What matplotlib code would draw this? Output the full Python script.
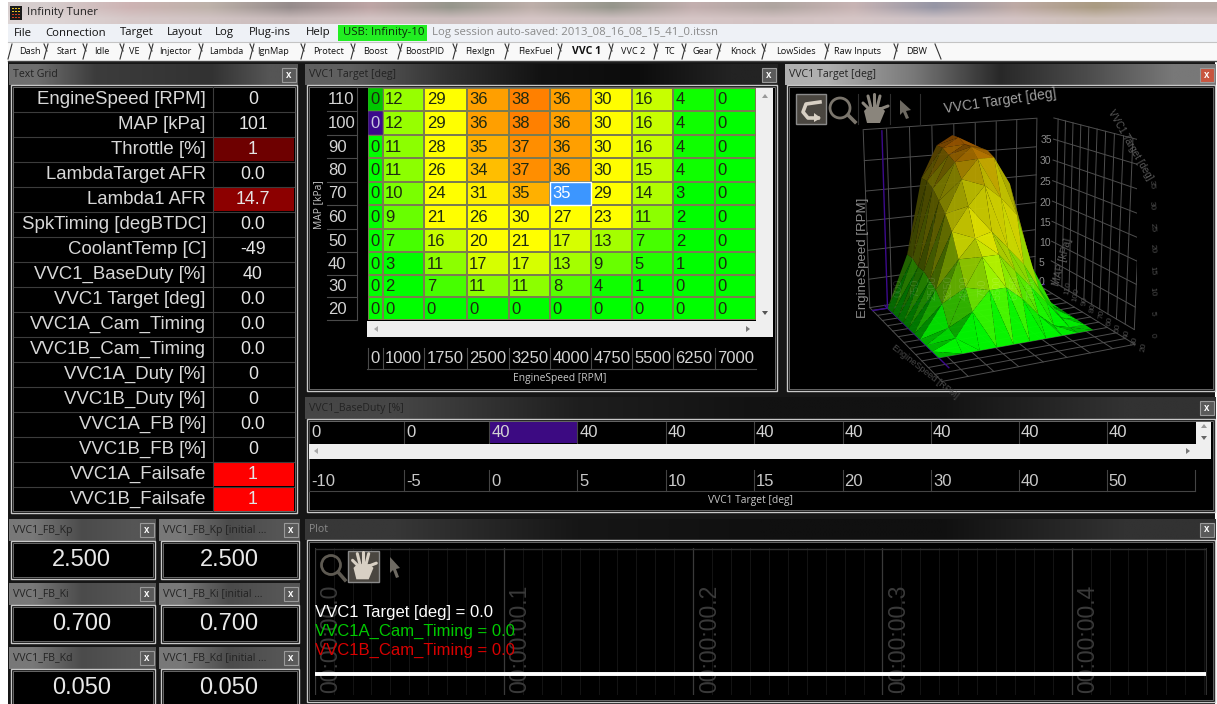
import numpy as np
import matplotlib
matplotlib.use('Agg')
import matplotlib.pyplot as plt
from matplotlib.colors import LinearSegmentedColormap, Normalize
from matplotlib.patches import Rectangle, Polygon, Circle
from mpl_toolkits.mplot3d.art3d import Poly3DCollection

plt.rcParams['font.family'] = ['Liberation Sans', 'DejaVu Sans']

W, H = 1217, 704

# table data
rpm = [0, 1000, 1750, 2500, 3250, 4000, 4750, 5500, 6250, 7000]
map_kpa = [110, 100, 90, 80, 70, 60, 50, 40, 30, 20]
target = [
    [0, 12, 29, 36, 38, 36, 30, 16, 4, 0],
    [0, 12, 29, 36, 38, 36, 30, 16, 4, 0],
    [0, 11, 28, 35, 37, 36, 30, 16, 4, 0],
    [0, 11, 26, 34, 37, 36, 30, 15, 4, 0],
    [0, 10, 24, 31, 35, 35, 29, 14, 3, 0],
    [0, 9, 21, 26, 30, 27, 23, 11, 2, 0],
    [0, 7, 16, 20, 21, 17, 13, 7, 2, 0],
    [0, 3, 11, 17, 17, 13, 9, 5, 1, 0],
    [0, 2, 7, 11, 11, 8, 4, 1, 0, 0],
    [0, 0, 0, 0, 0, 0, 0, 0, 0, 0],
]

grid_names = ['EngineSpeed [RPM]', 'MAP [kPa]', 'Throttle [%]', 'LambdaTarget AFR', 'Lambda1 AFR',
              'SpkTiming [degBTDC]', 'CoolantTemp [C]', 'VVC1_BaseDuty [%]', 'VVC1 Target [deg]',
              'VVC1A_Cam_Timing', 'VVC1B_Cam_Timing', 'VVC1A_Duty [%]', 'VVC1B_Duty [%]',
              'VVC1A_FB [%]', 'VVC1B_FB [%]', 'VVC1A_Failsafe', 'VVC1B_Failsafe']
grid_values = ['0', '101', '1', '0.0', '14.7', '0.0', '-49', '40', '0.0', '0.0', '0.0', '0', '0', '0.0', '0', '1', '1']
grid_fills = {2: '#6e0000', 4: '#8c0000', 15: '#ff0000', 16: '#ff0000'}

base_duty = [0, 0, 40, 40, 40, 40, 40, 40, 40, 40]
base_target = [-10, -5, 0, 5, 10, 15, 20, 30, 40, 50]

gauge_titles = ['VVC1_FB_Kp', 'VVC1_FB_Kp [initial ...', 'VVC1_FB_Ki', 'VVC1_FB_Ki [initial ...',
                'VVC1_FB_Kd', 'VVC1_FB_Kd [initial ...']
gauge_values = ['2.500', '2.500', '0.700', '0.700', '0.050', '0.050']

menu_items = ['File', 'Connection', 'Target', 'Layout', 'Log', 'Plug-ins', 'Help']
menu_x = [14, 45, 120, 167, 215, 249, 306]
tab_names = ['Dash', 'Start', 'Idle', 'VE', 'Injector', 'Lambda', 'IgnMap', 'Protect', 'Boost', 'BoostPID',
             'FlexIgn', 'FlexFuel', 'VVC 1', 'VVC 2', 'TC', 'Gear', 'Knock', 'LowSides', 'Raw Inputs', 'DBW']
tab_x = [30, 67, 102, 134, 175, 226, 273, 329, 375, 425, 480, 535, 587, 633, 670, 703, 743, 796, 858, 917]
tab_edges = [11, 47, 86, 123, 152, 202, 253, 304, 354, 401, 456, 508, 561, 612, 657, 685, 720, 765, 828, 897, 938]

plot_time = [0.0, 0.4708]
plot_values = [0.0, 0.0]
time_ticks = [0.0, 0.1, 0.2, 0.3, 0.4]

value_cmap = LinearSegmentedColormap.from_list('vvc', [
    (0.0, '#00ff00'), (3 / 38, '#00ff00'), (11 / 38, '#8cff00'), (16 / 38, '#c8ff00'),
    (20 / 38, '#ffff00'), (30 / 38, '#ffff00'), (36 / 38, '#ffa000'), (1.0, '#ff8000')])
value_norm = Normalize(0, 38)

fig = plt.figure(figsize=(W / 100, H / 100), dpi=100, facecolor='white')


def px_axes(x0, y0, x1, y1, z=1, **kw):
    return fig.add_axes([x0 / W, 1 - y1 / H, (x1 - x0) / W, (y1 - y0) / H], zorder=z, **kw)


bg = px_axes(0, 0, W, H, 0)
bg.set_xlim(0, W)
bg.set_ylim(H, 0)
bg.axis('off')

top = px_axes(0, 0, W, H, 10)
top.set_xlim(0, W)
top.set_ylim(H, 0)
top.axis('off')
top.patch.set_alpha(0)


def hgrad(ax, x0, y0, x1, y1, stops, z=1):
    arr = np.array(stops, dtype=float) / 255
    ax.imshow(arr, extent=(x0, x1, y1, y0), aspect='auto', interpolation='bilinear', zorder=z)
    ax.set_xlim(0, W)
    ax.set_ylim(H, 0)


def rect(ax, x0, y0, x1, y1, fc='none', ec='none', lw=0.8, z=2):
    ax.add_patch(Rectangle((x0, y0), x1 - x0, y1 - y0, fc=fc, ec=ec, lw=lw, zorder=z))


def close_btn(x, y, red=False):
    fc = '#c8553f' if red else '#5a5a5a'
    rect(bg, x - 7, y - 7, x + 7, y + 7, fc=fc, ec='#9a9a9a', lw=0.8, z=4)
    bg.text(x, y, 'x', color='white', fontsize=7, fontweight='bold', ha='center', va='center', zorder=5)


def panel(x0, y0, x1, y1, title, title_bottom, stops, btn=True, red=False):
    hgrad(bg, x0, y0, x1, title_bottom, [stops, stops], z=2)
    bg.text(x0 + 4, (y0 + title_bottom) / 2, title, color='#222222' if sum(stops[0]) > 180 else '#8a8a8a',
            fontsize=7.6, family=['Open Sans'], va='center', zorder=3)
    rect(bg, x0 + 2, title_bottom, x1 - 1, y1, fc='black', ec='#c8c8c8', lw=1.0, z=3)
    rect(bg, x0 + 4, title_bottom + 2, x1 - 3, y1 - 2, fc='black', ec='#777777', lw=0.6, z=3)
    if btn:
        close_btn(x1 - 9, (y0 + title_bottom) / 2, red)


def hand(x, y, s, color):
    top.add_patch(Polygon([[x - 7 * s, y + 14 * s], [x - 10 * s, y + 2 * s], [x - 6 * s, y - 2 * s], [x + 7 * s, y - 2 * s],
                           [x + 11 * s, y + 2 * s], [x + 6 * s, y + 14 * s]], fc=color, zorder=4))
    for dx, dy in [(-11, -6), (-6, -13), (0, -15), (6, -13), (14, -3)]:
        top.plot([x + dx * 0.45 * s, x + dx * s], [y, y + dy * s], color=color, lw=2.2, solid_capstyle='round', zorder=4)


# window chrome
rect(bg, 8, 60, W - 2, H, fc='#161616', z=1)
blur = [[[214, 205, 205], [206, 180, 180], [190, 178, 170], [150, 140, 140], [190, 165, 165], [150, 150, 140],
         [190, 175, 170], [150, 150, 140], [195, 175, 175], [175, 165, 160], [200, 180, 180], [150, 150, 165],
         [190, 170, 165], [170, 155, 130], [185, 170, 165]],
        [[222, 214, 214], [214, 200, 200], [210, 196, 196], [200, 186, 186], [212, 196, 196], [205, 190, 190],
         [214, 198, 198], [205, 192, 192], [214, 198, 198], [210, 194, 194], [214, 198, 198], [205, 194, 198],
         [212, 196, 196], [206, 192, 184], [208, 194, 192]]]
hgrad(bg, 8, 2, W, 24, blur, z=1)
rect(bg, 8, 24, W, 42, fc='#eef1f6', z=1)
rect(bg, 8, 42, W, 61, fc='#f9f9f9', z=1)
bg.plot([8, W], [41.5, 41.5], color='#c4c4c4', lw=0.8, zorder=2)
bg.plot([8, W], [60.5, 60.5], color='#444444', lw=1, zorder=2)

rect(bg, 10, 6, 22, 20, fc='#1a1a1a', z=3)
for ix in range(3):
    for iy in range(4):
        rect(bg, 12 + ix * 3.2, 8 + iy * 3, 13.6 + ix * 3.2, 9.4 + iy * 3, fc='#e8c020' if iy < 2 else '#d04020', z=4)
bg.text(27, 13, 'Infinity Tuner', fontsize=8.2, family=['Open Sans'], color='#222222', va='center', zorder=3)

for name, x in zip(menu_items, menu_x):
    bg.text(x, 33, name, fontsize=8.2, family=['Open Sans'], color='#111111', va='center', zorder=3)
rect(bg, 338, 25, 427, 41, fc='#22ee22', z=3)
bg.text(343, 33, 'USB: Infinity-10', fontsize=8.2, family=['Open Sans'], color='#0a2a0a', va='center', zorder=4)
bg.text(432, 33, 'Log session auto-saved: 2013_08_16_08_15_41_0.itssn', fontsize=8.2, family=['Open Sans'],
        color='#8a8a8a', va='center', zorder=3)

for name, x in zip(tab_names, tab_x):
    active = name == 'VVC 1'
    bg.text(x, 52, name, fontsize=7.6 if active else 6.6, family=['Open Sans'], fontweight='bold' if active else 'normal',
            color='#111111', ha='center', va='center', zorder=3)
for i, x in enumerate(tab_edges):
    if i < len(tab_edges) - 1:
        bg.plot([x - 3, x + 1], [59, 44], color='#333333', lw=0.8, zorder=3)
    if i > 0:
        last = i == len(tab_edges) - 1
        bg.plot([x - 3, x + 3 if last else x], [44, 59 if last else 51], color='#333333', lw=0.8, zorder=3)

# text grid
panel(9, 64, 298, 513, 'Text Grid', 85, [[110, 110, 110], [60, 60, 60], [55, 55, 55], [50, 50, 50], [85, 85, 85]])
row_h = 25.0
for i, (n, v) in enumerate(zip(grid_names, grid_values)):
    y0 = 87 + i * row_h
    if i in grid_fills:
        rect(bg, 213, y0 + 0.8, 294, y0 + row_h - 0.8, fc=grid_fills[i], z=4)
    bg.text(206, y0 + 12.8, n, color='#d8d8d8', fontsize=13.4, ha='right', va='center', zorder=5)
    bg.text(253, y0 + 12.8, v, color='#e4e4e4', fontsize=12.8, ha='center', va='center', zorder=5)
    if i > 0:
        bg.plot([14, 294], [y0, y0], color='#3c3c3c', lw=0.8, zorder=4)
bg.plot([212.5, 212.5], [87, 511], color='#3c3c3c', lw=0.8, zorder=4)

# gauges
for i, (t, v) in enumerate(zip(gauge_titles, gauge_values)):
    col, row = i % 2, i // 2
    x0, x1 = (9, 156) if col == 0 else (159, 300)
    y0 = 519 + row * 64
    panel(x0, y0, x1, y0 + 60 if row < 2 else 708, t, y0 + 22, [[120, 120, 120], [75, 75, 75], [85, 85, 85]])
    bg.text((x0 + x1) / 2 + (-1 if col == 0 else -0.5), y0 + 40.5, v, color='#e8e8e8', fontsize=17, ha='center', va='center', zorder=5)

# table panel
panel(305, 64, 778, 391, 'VVC1 Target [deg]', 85, [[95, 95, 95], [50, 50, 50], [18, 18, 18], [12, 12, 12], [35, 35, 35]])
col_edges = [367.7, 382.7, 424.3, 466.7, 509, 550.3, 591, 632.3, 673.3, 714.7, 755.7]
row_edges = [87.7, 111.3, 135, 158.3, 181.7, 205, 229, 252.3, 275.3, 297.3, 320.3]
heat = px_axes(col_edges[0], row_edges[0], col_edges[-1], row_edges[-1], 2)
heat.pcolormesh(col_edges, row_edges, np.array(target), cmap=value_cmap, norm=value_norm,
                edgecolors='#7c7c50', linewidth=0.35)
heat.set_xlim(col_edges[0], col_edges[-1])
heat.set_ylim(row_edges[-1], row_edges[0])
heat.axis('off')
heat.add_patch(Rectangle((col_edges[0], row_edges[0]), col_edges[1] - col_edges[0], row_edges[1] - row_edges[0], fc='#00c800', ec='#7c7c50', lw=0.35))
heat.add_patch(Rectangle((col_edges[0], row_edges[1]), col_edges[1] - col_edges[0], row_edges[2] - row_edges[1], fc='#3c0a8c', ec='#7c7c50', lw=0.35))
heat.add_patch(Rectangle((col_edges[5], row_edges[4]), col_edges[6] - col_edges[5], row_edges[5] - row_edges[4], fc='#3c96ff', ec='white', lw=1))
for r in range(10):
    for c in range(10):
        color = '#1e2a10'
        if (r, c) == (1, 0):
            color = '#c8c8e0'
        if (r, c) == (4, 5):
            color = 'white'
        heat.text(col_edges[c] + 2.5, (row_edges[r] + row_edges[r + 1]) / 2 + 0.5, str(target[r][c]), color=color,
                  fontsize=12, ha='left', va='center')
for r, m in enumerate(map_kpa):
    yc = (row_edges[r] + row_edges[r + 1]) / 2
    bg.text(328, yc + 0.5, str(m), color='#d4d4d4', fontsize=12, ha='left', va='center', zorder=5)
    bg.plot([327, 357], [row_edges[r + 1], row_edges[r + 1]], color='#4a4a4a', lw=0.8, zorder=5)
bg.plot([357, 357], [88, 320], color='#4a4a4a', lw=0.8, zorder=5)
bg.text(319, 205, 'MAP [kPa]', color='#c8c8c8', fontsize=7.4, rotation=90, ha='center', va='center', zorder=5, family=['Open Sans'])
for c, s in enumerate(rpm):
    xc = (col_edges[c] + col_edges[c + 1]) / 2
    bg.text(xc, 358.5, str(s), color='#d4d4d4', fontsize=12, ha='center', va='center', zorder=5)
    bg.plot([col_edges[c], col_edges[c]], [348, 369], color='#4a4a4a', lw=0.8, zorder=5)
bg.plot([367, 756], [369, 369], color='#4a4a4a', lw=0.8, zorder=5)
bg.text(560, 378.5, 'EngineSpeed [RPM]', color='#c8c8c8', fontsize=7.4, ha='center', va='center', zorder=5, family=['Open Sans'])
rect(bg, 756, 88, 773, 337, fc='#efefef', z=5)
rect(bg, 367, 321, 773, 337, fc='#efefef', z=5)
bg.add_patch(Polygon([[762, 98], [768, 98], [765, 94]], fc='#999999', zorder=6))
bg.add_patch(Polygon([[762, 311], [768, 311], [765, 315]], fc='#555555', zorder=6))
bg.add_patch(Polygon([[378, 326], [378, 332], [374, 329]], fc='#aaaaaa', zorder=6))
bg.add_patch(Polygon([[746, 326], [746, 332], [750, 329]], fc='#777777', zorder=6))

# 3d panel
panel(785, 64, 1216, 391, 'VVC1 Target [deg]', 85, [[175, 175, 175], [120, 120, 120], [40, 40, 40], [75, 75, 75], [120, 120, 120]], red=True)
ax3 = px_axes(776, 84, 1198, 384, 3, projection='3d', computed_zorder=False)
ax3.set_proj_type('persp', focal_length=0.55)
ax3.view_init(elev=15, azim=-115)
ax3.set_box_aspect((1.18, 1, 1.2), zoom=1.0)
ax3.patch.set_alpha(0)
ax3.set_axis_off()
Z = np.array(target, dtype=float)
z_ticks = [0, 5, 10, 15, 20, 25, 30, 35]
wc = '#4e4e4e'
xw = np.linspace(-700, 7700, 9)
yw = np.array(map_kpa + [10, 0, -10])
for x in xw:
    ax3.plot([x, x], [116, 116], [0, 40], color=wc, lw=0.7, zorder=1)
    ax3.plot([x, x], [-10, 116], [0, 0], color=wc, lw=0.7, zorder=1)
for z in np.arange(0, 41, 6.7):
    ax3.plot([xw[0], xw[-1]], [116, 116], [z, z], color=wc, lw=0.7, zorder=1)
for y in yw:
    ax3.plot([xw[0], xw[-1]], [y, y], [0, 0], color=wc, lw=0.7, zorder=1)
    if y >= 10:
        ax3.plot([8600, 8600], [y, y], [0, 40], color=wc, lw=0.7, zorder=1)
for z in np.arange(0, 41, 5):
    ax3.plot([8600, 8600], [10, 116], [z, z], color=wc, lw=0.7, zorder=1)
ax3.plot([0, 0], [110, 110], [0, 40], color='#3c0a8c', lw=1, zorder=1)
ax3.plot([-700, 8000], [110, 110], [0, 0], color='#3c0a8c', lw=1, zorder=1)
ax3.plot([0, 0], [116, 5], [0, 0], color='#3c0a8c', lw=1, zorder=1)

# triangles back to front, lit from the viewer side like the tuner's surface
tris, cols = [], []
light = np.array([0.0, -0.78, 0.62])
for r in range(9):
    for c in range(10 - 1):
        p = [(rpm[c], map_kpa[r], Z[r, c]), (rpm[c + 1], map_kpa[r], Z[r, c + 1]),
             (rpm[c + 1], map_kpa[r + 1], Z[r + 1, c + 1]), (rpm[c], map_kpa[r + 1], Z[r + 1, c])]
        for tri in ([p[0], p[1], p[2]], [p[0], p[2], p[3]]):
            q = np.array(tri, dtype=float) / [7000 / 1.18, 90, 38 / 1.2]
            n = np.cross(q[1] - q[0], q[2] - q[0])
            n = n / np.linalg.norm(n)
            if n[2] < 0:
                n = -n
            zm = np.mean([t[2] for t in tri])
            b = (0.2 + 0.95 * max(n @ light, 0)) * (1 - 0.36 * zm / 38)
            rgb = np.array(value_cmap(value_norm(zm))[:3]) * min(b, 1)
            tris.append(tri)
            cols.append((*rgb, 0.96))
ax3.add_collection3d(Poly3DCollection(tris, facecolors=cols, edgecolors='none', zorder=3))
ax3.set_xlim(-300, 7600)
ax3.set_ylim(15, 112)
ax3.set_zlim(0, 40)
for z in z_ticks:
    ax3.text(7900, 116, z, str(z), color='#8c8c8c', fontsize=7.5, ha='left', va='center', zorder=2)
top.text(1000, 101, 'VVC1 Target [deg]', color='#a0a0a0', fontsize=10, rotation=8, ha='center', va='center')
top.text(863, 258, 'EngineSpeed [RPM]', color='#8c8c8c', fontsize=9.5, rotation=90, ha='center', va='center')
top.text(1063, 262, 'MAP [kPa]', color='#5a5a5a', fontsize=7.5, rotation=75, ha='center', va='center')
top.text(1130, 145, 'VVC1 Target [deg]', color='#5a5a5a', fontsize=7, rotation=-60, ha='center', va='center')
top.text(925, 372, 'EngineSpeed [RPM]', color='#4a4a4a', fontsize=6.5, rotation=-38, ha='center', va='center')
for s, x in zip(['000', '750', '2500', '3250', '4000', '750', '5500', '6250', '7000'],
                [899, 915, 932, 949, 965, 982, 998, 1014, 1031]):
    top.text(x, 288, s, color='#ffffff', alpha=0.13, fontsize=8, rotation=90, ha='center', va='center')
for k, m in enumerate(map_kpa):
    top.text(1068 + k * 8.4, 288 + k * 6.6, str(m), color='#4a4a4a', fontsize=6, rotation=80, ha='center', va='center')
for k, z in enumerate(z_ticks):
    top.text(1152, 335 - k * 21.5, str(z), color='#4a4a4a', fontsize=6, rotation=-85, ha='center', va='center')

# toolbar icons in 3d view
rect(top, 796, 94, 826, 124, fc='#4a4640', ec='#8a8a8a', lw=1, z=3)
top.plot([820, 806, 803, 808, 818], [102, 104, 112, 118, 118], color='#d8d0c4', lw=2.6, zorder=4)
top.add_patch(Polygon([[814, 113], [821, 118], [814, 122]], fc='#d8d0c4', zorder=4))
top.add_patch(Circle((840, 108), 10, fc='none', ec='#7a756c', lw=2, zorder=4))
top.plot([848, 855], [115, 122], color='#7a756c', lw=2.6, zorder=4)
hand(874, 109, 1.0, '#8a857c')
top.add_patch(Polygon([[900, 100], [911, 110], [906, 111], [909, 118], [906, 119], [903, 112], [900, 115]], fc='#6e6a62', zorder=4))
for x in [858, 890, 920]:
    top.plot([x, x], [94, 124], color='#2e2e2e', lw=0.8, zorder=3)

# base duty panel
panel(305, 397, 1216, 512, 'VVC1_BaseDuty [%]', 419, [[70, 70, 70], [30, 30, 30], [18, 18, 18], [18, 18, 18], [50, 50, 50]])
duty_edges = [309, 403.9, 489.4, 577.2, 665.7, 754, 842.5, 931, 1018.8, 1106.6, 1195]
rect(bg, duty_edges[2], 422, duty_edges[3], 442.5, fc='#3c0a82', z=5)
for i in range(10):
    bg.text(duty_edges[i] + 2, 432.5, str(base_duty[i]), color='#d4d4d4', fontsize=12, va='center', zorder=6)
    bg.text(duty_edges[i] + 2, 481, str(base_target[i]), color='#c8c8c8', fontsize=12, va='center', zorder=6)
    bg.plot([duty_edges[i], duty_edges[i]], [422, 443], color='#444444', lw=0.8, zorder=5)
    bg.plot([duty_edges[i], duty_edges[i]], [470, 490.5], color='#444444', lw=0.8, zorder=5)
bg.plot([1195, 1195], [470, 490.5], color='#444444', lw=0.8, zorder=5)
bg.plot([309, 1195], [490.5, 490.5], color='#444444', lw=0.8, zorder=5)
rect(bg, 309, 443.5, 1211, 459, fc='#efefef', z=5)
rect(bg, 1196, 422, 1211, 459, fc='#efefef', z=5)
bg.add_patch(Polygon([[1201, 428], [1207, 428], [1204, 424]], fc='#999999', zorder=6))
bg.add_patch(Polygon([[1201, 436], [1207, 436], [1204, 440]], fc='#666666', zorder=6))
bg.add_patch(Polygon([[318, 448], [318, 454], [314, 451]], fc='#aaaaaa', zorder=6))
bg.add_patch(Polygon([[1186, 448], [1186, 454], [1190, 451]], fc='#777777', zorder=6))
bg.text(751, 500, 'VVC1 Target [deg]', color='#c8c8c8', fontsize=7.4, ha='center', va='center', zorder=6, family=['Open Sans'])

# plot panel
panel(305, 519, 1216, 702, 'Plot', 540, [[55, 55, 55], [22, 22, 22], [16, 16, 16], [16, 16, 16], [50, 50, 50]])
pl = px_axes(314.7, 548, 1207, 695, 4)
pl.set_facecolor('black')
pl.set_xlim(0, 0.4715)
pl.set_ylim(-0.3, 1.8)
pl.axis('off')
for t in np.arange(0, 0.471, 0.01):
    pl.axvline(t, color='#141414', lw=0.7, zorder=1)
for t in time_ticks:
    pl.axvline(t, color='#3a3a3a', lw=0.9, zorder=2)
    pl.text(t + 0.0085, -0.27, '00:00:00.%d' % round(t * 10), color='#3a3a3a', fontsize=16.5,
            rotation=90, ha='center', va='bottom', zorder=2)
pl.axvline(0.4712, color='#303030', lw=1)
pl.axhline(1.78, color='#303030', lw=1)
pl.plot(plot_time, plot_values, color='white', lw=2.8, solid_capstyle='butt', zorder=3)
top.text(315, 612, 'VVC1 Target [deg] = 0.0', color='white', fontsize=12, va='center')
top.text(315, 631, 'VVC1A_Cam_Timing = 0.0', color='#00c800', fontsize=12, va='center')
top.text(315, 650, 'VVC1B_Cam_Timing = 0.0', color='#d80000', fontsize=12, va='center')
top.add_patch(Circle((331, 565), 9.5, fc='none', ec='#5e5a52', lw=2))
top.plot([338, 345], [572, 580], color='#5e5a52', lw=2.6)
rect(top, 348, 551, 379, 582, fc='#4a4640', ec='#8a8a8a', lw=1)
hand(363, 566, 0.95, '#d8d0c4')
top.add_patch(Polygon([[390, 557], [400, 568], [396, 569], [399, 577], [396, 578], [393, 570], [390, 573]], fc='#6e6a62', zorder=4))

fig.savefig('out.png', dpi=100, facecolor='white')
